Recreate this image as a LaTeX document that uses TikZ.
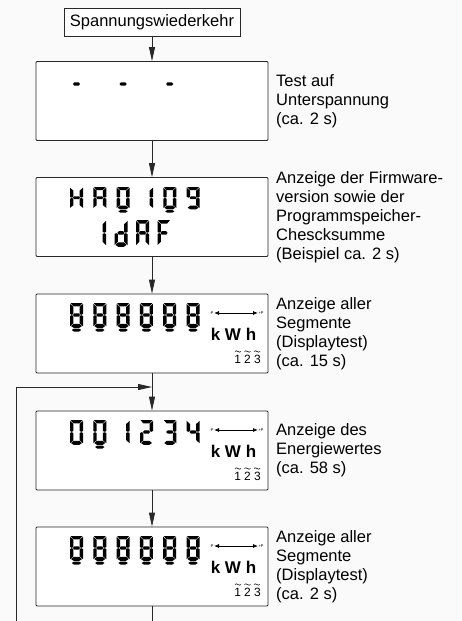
\documentclass[tikz,border=0pt]{standalone}
\usepackage{fontspec}
\setmainfont{Liberation Sans}
\usetikzlibrary{arrows.meta}
\definecolor{lcdframe}{RGB}{40, 40, 40}
\definecolor{paper}{RGB}{250, 250, 250}

\tikzset{
  lcdbox/.style={draw=lcdframe, fill=white, line width=0.8pt, rounded corners=1pt,
    minimum width=232pt, minimum height=79pt, inner sep=0pt},
  startbox/.style={draw=lcdframe, fill=white, line width=0.8pt, minimum width=176pt,
    minimum height=28pt, inner sep=0pt, font=\fontsize{16.5}{19}\selectfont},
  infotext/.style={anchor=west, align=left, inner sep=0pt, font=\fontsize{16.5}{19}\selectfont},
  flow/.style={draw=lcdframe, line width=0.8pt, -{Triangle[length=14pt,width=6pt]}},
  plainflow/.style={draw=lcdframe, line width=0.8pt},
  lcdseg/.style={fill=black},
  tinylbl/.style={inner sep=0.3pt, font=\fontsize{4}{4}\selectfont},
  dirline/.style={line width=0.8pt, {Latex[length=5pt,width=4pt]}-{Latex[length=5pt,width=4pt]}},
  unitlbl/.style={inner sep=0pt, font=\bfseries\fontsize{17}{17}\selectfont},
  phaselbl/.style={inner sep=0pt, font=\fontsize{12}{12}\selectfont},
  phasewave/.style={line width=0.6pt},
}

\newcommand\lcdsega{\fill[lcdseg] (0.5,0) -- (12.5,0) -- (9.6,3.4) -- (3.4,3.4) -- cycle;}
\newcommand\lcdsegb{\fill[lcdseg] (13,0.8) -- (13,11) -- (11.3,11.8) -- (9.6,11) -- (9.6,4) -- cycle;}
\newcommand\lcdsegc{\fill[lcdseg] (13,13) -- (13,23.2) -- (9.6,20.2) -- (9.6,13) -- (11.3,12.2) -- cycle;}
\newcommand\lcdsegd{\fill[lcdseg] (1,23) -- (3.6,20.8) -- (9.4,20.8) -- (12,23) -- (9.4,24.8) -- (3.6,24.8) -- cycle;}
\newcommand\lcdsege{\fill[lcdseg] (0,13) -- (1.7,12.2) -- (3.4,13) -- (3.4,20.2) -- (0,23.2) -- cycle;}
\newcommand\lcdsegf{\fill[lcdseg] (0,0.8) -- (3.4,4) -- (3.4,11) -- (1.7,11.8) -- (0,11) -- cycle;}
\newcommand\lcdsegg{\fill[lcdseg] (2.9,12) -- (4.3,10.4) -- (8.7,10.4) -- (10.1,12) -- (8.7,13.6) -- (4.3,13.6) -- cycle;}
\newcommand\lcdsegp{\fill[lcdseg] (1.8,27) -- (4,25.6) -- (9,25.6) -- (11.2,27) -- (9,28.6) -- (4,28.6) -- cycle;}

\newcommand\lcddigit[3]{%
  \begin{scope}[shift={(#1,#2)}]
    \foreach \s in {#3} {\csname lcdseg\s\endcsname}
  \end{scope}}

\newcommand\lcdunits[2]{%
  \node[tinylbl] (minus#2) at (211.5,#1+19) {-P};
  \node[tinylbl] (plus#2) at (261,#1+19) {+P};
  \draw[dirline] (minus#2) -- (plus#2);
  \node[unitlbl] (unit#2) at (233.5,#1+40) {k W h};
  \node[phaselbl] (phase#2) at (247.5,#1+65) {1\hspace{3.2pt}2\hspace{3.2pt}3};
  \foreach \dx in {-9.5,0,9.5}
    \draw[phasewave] (247.5+\dx-3,#1+57.5) .. controls (247.5+\dx-1.5,#1+55)
      and (247.5+\dx+1.5,#1+60) .. (247.5+\dx+3,#1+57.5);}

\begin{document}
\begin{tikzpicture}[x=1pt, y=-1pt]
  \fill[paper] (0,0) rectangle (461,621);
  \useasboundingbox (0,0) rectangle (461,621);

  \node[startbox] (start) at (152,22) {Spannungswiederkehr};

  \node[lcdbox] (disp1) at (152,101) {};
  \node[lcdbox] (disp2) at (152,217) {};
  \node[lcdbox] (disp3) at (152,333.5) {};
  \node[lcdbox] (disp4) at (152,450.5) {};
  \node[lcdbox] (disp5) at (152,566.5) {};

  \node[infotext] (info1) at (276,101) {Test auf\\Unterspannung\\(ca. 2 s)};
  \node[infotext] (info2) at (276,217) {Anzeige der Firmware-\\version sowie der\\Programmspeicher-\\Chescksumme\\(Beispiel ca. 2 s)};
  \node[infotext] (info3) at (276,333.5) {Anzeige aller\\Segmente\\(Displaytest)\\(ca. 15 s)};
  \node[infotext] (info4) at (276,450.5) {Anzeige des\\Energiewertes\\(ca. 58 s)};
  \node[infotext] (info5) at (276,566.5) {Anzeige aller\\Segmente\\(Displaytest)\\(ca. 2 s)};

  \foreach \i in {0,2,4} {\lcddigit{70+23.3*\i}{72}{g}}

  \begin{scope}[shift={(0,187)}, yscale=0.9]
    \lcddigit{70}{0}{b,c,e,f,g}
    \lcddigit{93.3}{0}{a,b,c,e,f,g}
    \lcddigit{116.6}{0}{a,b,c,d,e,f,p}
    \lcddigit{140}{0}{b,c}
    \lcddigit{163.3}{0}{a,b,c,d,e,f,p}
    \lcddigit{186.6}{0}{a,b,c,d,f,g}
  \end{scope}
  \begin{scope}[shift={(0,220)}, yscale=1.08]
    \lcddigit{93}{0}{b,c}
    \lcddigit{114.5}{0}{b,c,d,e,g}
    \lcddigit{136}{0}{a,b,c,e,f,g}
    \lcddigit{157.5}{0}{a,e,f,g}
  \end{scope}

  \foreach \i in {0,...,5} {\lcddigit{70+23.3*\i}{303}{a,b,c,d,e,f,g,p}}
  \lcdunits{294}{a}

  \lcddigit{70}{420}{a,b,c,d,e,f}
  \lcddigit{93.3}{420}{a,b,c,d,e,f,p}
  \lcddigit{116.6}{420}{b,c}
  \lcddigit{140}{420}{a,b,g,e,d}
  \lcddigit{163.3}{420}{a,b,g,c,d}
  \lcddigit{186.6}{420}{f,g,b,c}
  \lcdunits{411}{b}

  \foreach \i in {0,...,5} {\lcddigit{70+23.3*\i}{536}{a,b,c,d,e,f,g,p}}
  \lcdunits{527}{c}

  \coordinate (loopin) at (16,621);
  \coordinate (merge) at (152,387);
  \coordinate (exit) at (152,621);

  \draw[flow] (start) -- (disp1);
  \draw[flow] (disp1) -- (disp2);
  \draw[flow] (disp2) -- (disp3);
  \draw[flow] (disp3) -- (disp4);
  \draw[flow] (disp4) -- (disp5);
  \draw[flow] (loopin) |- (merge);
  \draw[plainflow] (disp5) -- (exit);
\end{tikzpicture}
\end{document}
